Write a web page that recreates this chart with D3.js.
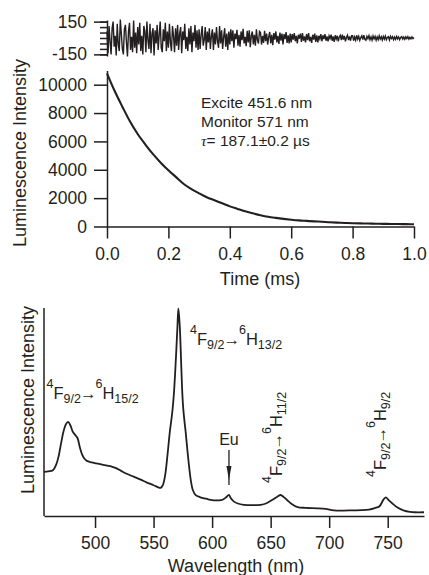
<!DOCTYPE html>
<html><head><meta charset="utf-8">
<script src="https://cdn.jsdelivr.net/npm/d3@7"></script>
<style>
body{margin:0;background:#fff}
svg text{font-family:"Liberation Sans",Arial,Helvetica,sans-serif;fill:#231f20}
</style>
</head><body><svg id="c" width="429" height="575"></svg>
<script>
// ---------- data ----------
const decayTime = [0,0.025,0.05,0.075,0.1,0.125,0.15,0.175,0.2,0.225,0.25,0.275,0.3,0.325,0.35,0.375,0.4,0.425,0.45,0.475,0.5,0.525,0.55,0.575,0.6,0.625,0.65,0.675,0.7,0.725,0.75,0.775,0.8,0.825,0.85,0.875,0.9,0.925,0.95,0.975,1.0];
const decayIntensity = [10800,9550,8450,7400,6520,5780,5100,4500,3960,3480,3000,2640,2340,2060,1850,1640,1420,1240,1070,930,800,690,610,540,480,430,395,360,335,300,275,250,230,218,208,198,188,180,172,166,160];
const decayTicks = [0,2000,4000,6000,8000,10000];
const timeTicks = [0,0.2,0.4,0.6,0.8,1.0];
const residualTicks = [-150,-100,-50,0,50,100,150];
const residualLabelTicks = [-150,150];
const residualValues = [
60,-140,110,-30,-150,90,150,-80,20,-160,130,-60,-120,170,40,-100,-150,80,120,-40,-170,60,140,-110,10,-130,160,-90,50,-140,
100,-60,140,-120,20,-150,110,60,-130,150,-20,-100,130,-140,40,90,-160,70,-50,120,-110,30,150,-90,-130,80,-30,140,-120,60,
-90,130,-40,-120,110,20,-130,90,-70,120,-110,40,100,-140,60,-20,130,-100,10,-120,90,-60,110,-130,50,-30,120,-90,70,-110,
80,-100,30,110,-70,-20,100,-110,60,-40,90,-100,20,80,-110,50,-60,100,-30,-90,110,-50,70,-100,10,90,-80,40,-110,60,
-60,80,-30,70,-90,40,-10,75,-70,30,-80,60,-20,85,-50,10,-75,65,-40,70,-85,20,60,-60,30,-70,80,-20,-50,60,
50,-60,20,-45,65,-30,40,-60,10,55,-50,30,-65,45,-15,60,-40,20,-55,50,-25,40,-60,35,-10,55,-45,25,-50,40,
-40,35,-15,45,-30,20,-50,30,-5,40,-35,45,-25,15,-40,35,-20,45,-30,10,-45,30,-15,40,-35,25,-40,20,-10,35,
-30,25,-10,35,-25,15,-30,20,-5,30,-25,15,-35,25,-10,20,-30,10,25,-20,30,-15,20,-30,5,25,-20,15,-25,20,
20,-25,10,-20,25,-10,15,-22,5,20,-15,25,-12,-20,15,-5,22,-15,10,-20,18,-8,15,-20,10,-15,20,-10,12,-18,
15,-10,18,-15,5,12,-18,15,-5,12,-16,8,-12,15,-8,10,-15,5,12,-10,8,-12,10,-6,12,-10,6,-8,10,-6,5];

const wavelength = [456.4,460,464,467,469,471,473,475,477,479,481,483,485,487,489,491,493,497,501,507,513,518,522,527,533,539,544,550,554,556,558,560,562,564,566,567.5,569,570.3,571.2,572.3,573.3,574.3,575.3,576.5,577.5,579,580.5,582,583.5,586,590,595,600,605,609,612,614.4,616,618.7,622,627,635,641.5,646,651.5,656,658.5,661,664,668,673,680,690,697,704,712,720,728,734,739,743,746,748.3,751,754,758,764,769,773,781];
const spectrumIntensity = [21.2,21.5,22,25,29,35,40.5,44,45.3,43.5,40.5,39,37.5,33,29.5,27.5,26.5,25.8,25.3,24.6,24,23,21.8,20.3,18.9,17.5,16.2,14.8,13.8,13.5,15,20,30,41,50,60,75,90,99.8,92,78,62,52,45,40,31,23,16.5,12.5,10,9,8.3,7.6,7.5,7.8,9,10.2,8.5,6.9,6,5.4,5.2,5.4,6,7.8,9.4,10.1,9.2,7.7,5.8,4.3,3.9,3.7,3.4,2.7,2.6,2.7,2.8,3.1,3.8,4.7,7.5,9,7.5,6,4.2,2.6,2,1.8,1.8];
const wavelengthTicks = [500,550,600,650,700,750];

// ---------- drawing ----------
const ink = "#231f20";
const svg = d3.select("#c");

function styleAxis(g, fs){
  g.selectAll("path.domain").attr("stroke", ink).attr("stroke-width", 1.5);
  g.selectAll(".tick line").attr("stroke", ink).attr("stroke-width", 1.5);
  g.selectAll(".tick text").attr("fill", ink).style("font-size", fs + "px")
    .style("font-family", '"Liberation Sans",Arial,sans-serif');
}

// top panel scales
const xT = d3.scaleLinear().domain([0, 1]).range([107, 414]);
const yD = d3.scaleLinear().domain([0, 11000]).range([226.5, 70.5]);
const yR = d3.scaleLinear().domain([-165, 165]).range([56, 20]);
const xIdx = d3.scaleLinear().domain([0, residualValues.length - 1]).range([0, 1]);

// residual axis (minor + major)
const gRm = svg.append("g").attr("transform", "translate(107,0)")
  .call(d3.axisLeft(yR).tickValues(residualTicks).tickSize(7).tickSizeOuter(0).tickFormat(""));
styleAxis(gRm, 17.5);
const gR = svg.append("g").attr("transform", "translate(107,0)")
  .call(d3.axisLeft(yR).tickValues(residualLabelTicks).tickSize(13).tickSizeOuter(0).tickPadding(7).tickFormat(d => d < 0 ? "-" + Math.abs(d) : String(d)));
styleAxis(gR, 17.5);
gR.select("path.domain").remove();

svg.append("path")
  .datum(residualValues)
  .attr("fill", "none").attr("stroke", ink).attr("stroke-width", 1.4)
  .attr("stroke-linejoin", "miter")
  .attr("d", d3.line().x((d, i) => xT(xIdx(i))).y(d => yR(d)));

// decay axes
const gY = svg.append("g").attr("transform", "translate(107,0)")
  .call(d3.axisLeft(yD).tickValues(decayTicks).tickSize(13).tickSizeOuter(0).tickPadding(7).tickFormat(d3.format("d")));
styleAxis(gY, 17.5);
const gX = svg.append("g").attr("transform", "translate(0,226.5)")
  .call(d3.axisBottom(xT).tickValues(timeTicks).tickSize(12).tickSizeOuter(0).tickPadding(9).tickFormat(d3.format(".1f")));
styleAxis(gX, 17.5);

svg.append("path")
  .datum(decayTime.map((t, i) => [t, decayIntensity[i]]))
  .attr("fill", "none").attr("stroke", ink).attr("stroke-width", 2.1)
  .attr("stroke-linejoin", "round")
  .attr("d", d3.line().curve(d3.curveMonotoneX).x(d => xT(d[0])).y(d => yD(d[1])));

svg.append("text").attr("x", 260).attr("y", 285).attr("text-anchor", "middle")
  .style("font-size", "18px").text("Time (ms)");
svg.append("text").attr("transform", "translate(25.5,153) rotate(-90)").attr("text-anchor", "middle")
  .style("font-size", "18px").text("Luminescence Intensity");

const info = svg.append("g").style("font-size", "15.5px");
info.append("text").attr("x", 201).attr("y", 108.3).text("Excite 451.6 nm");
info.append("text").attr("x", 201).attr("y", 127).text("Monitor 571 nm");
const tau = info.append("text").attr("x", 201).attr("y", 146);
tau.append("tspan").style("font-family", '"Liberation Serif","Times New Roman",serif').style("font-style", "italic").text("τ");
tau.append("tspan").text("= 187.1±0.2  µs");

// bottom panel
const xW = d3.scaleLinear().domain([456.4, 781]).range([44, 424]);
const yS = d3.scaleLinear().domain([0, 100]).range([516, 308]);

svg.append("line").attr("x1", 44).attr("x2", 44).attr("y1", 308).attr("y2", 516)
  .attr("stroke", ink).attr("stroke-width", 1.5);
const gW = svg.append("g").attr("transform", "translate(0,516)")
  .call(d3.axisBottom(xW).tickValues(wavelengthTicks).tickSize(12).tickSizeOuter(0).tickPadding(9));
styleAxis(gW, 17.5);

svg.append("path")
  .datum(wavelength.map((w, i) => [w, spectrumIntensity[i]]))
  .attr("fill", "none").attr("stroke", ink).attr("stroke-width", 1.8)
  .attr("stroke-linejoin", "round")
  .attr("d", d3.line().curve(d3.curveCatmullRom.alpha(0.5)).x(d => xW(d[0])).y(d => yS(d[1])));

svg.append("text").attr("x", 236).attr("y", 571.5).attr("text-anchor", "middle")
  .style("font-size", "18px").text("Wavelength (nm)");
svg.append("text").attr("transform", "translate(33.5,400) rotate(-90)").attr("text-anchor", "middle")
  .style("font-size", "18px").text("Luminescence Intensity");

// transition labels
function transition(sel, upper){
  const t = sel.append("text").style("font-size", "16.5px");
  t.append("tspan").attr("dy", -11).style("font-size", "12.5px").text("4");
  t.append("tspan").attr("dy", 11).text("F");
  t.append("tspan").attr("dy", 4).style("font-size", "12.5px").text("9/2");
  t.append("tspan").attr("dy", -4).attr("dx", -1).text("→");
  t.append("tspan").attr("dy", -11).attr("dx", -1).style("font-size", "12.5px").text("6");
  t.append("tspan").attr("dy", 11).text("H");
  t.append("tspan").attr("dy", 4).style("font-size", "12.5px").text(upper);
  return t;
}
transition(svg.append("g").attr("transform", "translate(46.5,398.5)"), "15/2");
transition(svg.append("g").attr("transform", "translate(190,345)"), "13/2");
transition(svg.append("g").attr("transform", "translate(282,483) rotate(-90)"), "11/2");
transition(svg.append("g").attr("transform", "translate(386,477) rotate(-90)"), "9/2");

// Eu marker
const euX = xW(614.4);
svg.append("text").attr("x", euX).attr("y", 445).attr("text-anchor", "middle")
  .style("font-size", "16px").text("Eu");
svg.append("line").attr("x1", euX).attr("x2", euX).attr("y1", 450).attr("y2", 485)
  .attr("stroke", ink).attr("stroke-width", 1.3);
svg.append("path").attr("d", `M${euX-2.5},466 L${euX+2.5},466 L${euX},480 Z`).attr("fill", ink);
</script>
</body></html>
